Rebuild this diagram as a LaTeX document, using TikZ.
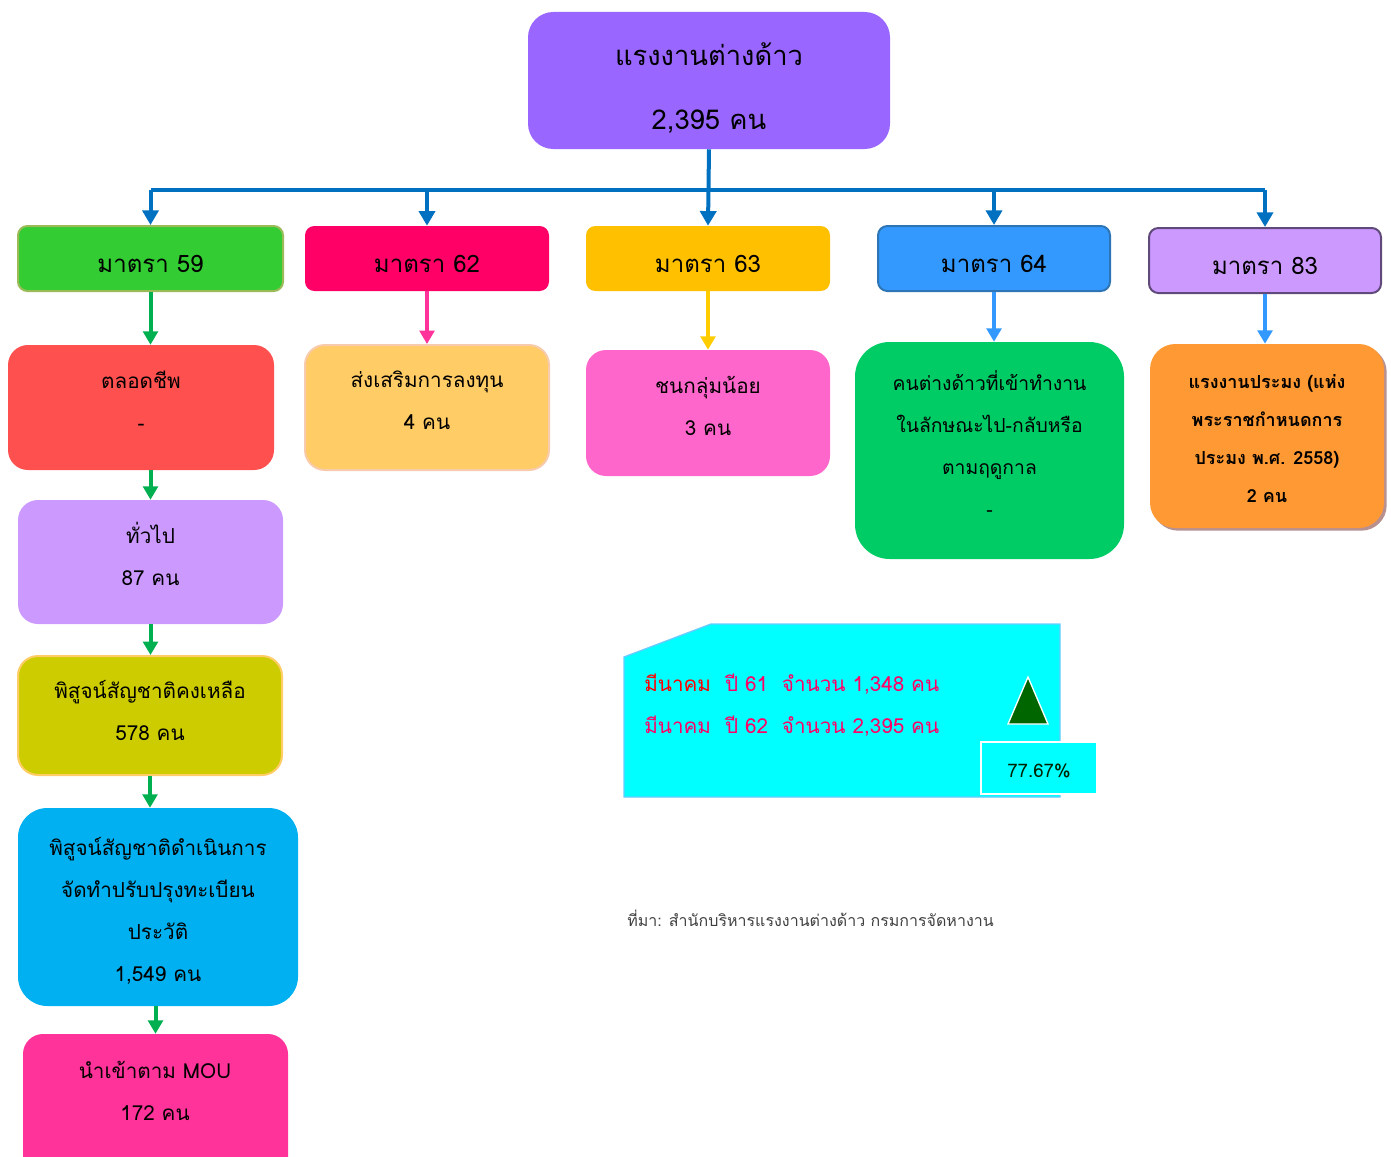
\documentclass[tikz,border=0pt]{standalone}
\usepackage{fontspec}
\setmainfont[Script=Thai]{Loma}
\usetikzlibrary{arrows.meta,fit,shadows}
\definecolor{ctop}{HTML}{9966FF}
\definecolor{cbus}{HTML}{0070C0}
\definecolor{c59}{HTML}{33CC33}
\definecolor{c59b}{HTML}{9BBB59}
\definecolor{c62}{HTML}{FF0066}
\definecolor{c63}{HTML}{FFC000}
\definecolor{c64}{HTML}{3399FF}
\definecolor{c64b}{HTML}{2E75B6}
\definecolor{c83}{HTML}{CC99FF}
\definecolor{c83b}{HTML}{604A7B}
\definecolor{ctl}{HTML}{FF5050}
\definecolor{cinv}{HTML}{FFCC66}
\definecolor{cinvb}{HTML}{F8CBAD}
\definecolor{cmin}{HTML}{FF66CC}
\definecolor{csea}{HTML}{00CC66}
\definecolor{cfish}{HTML}{FF9933}
\definecolor{cshadow}{HTML}{B89090}
\definecolor{cgen}{HTML}{CC99FF}
\definecolor{cpa}{HTML}{CCCC00}
\definecolor{cpab}{HTML}{FFCC66}
\definecolor{cpb}{HTML}{00B0F0}
\definecolor{cmou}{HTML}{FF3399}
\definecolor{cstat}{HTML}{00FFFF}
\definecolor{cstatb}{HTML}{66CCFF}
\definecolor{ctri}{HTML}{006600}
\definecolor{cpct}{HTML}{002200}
\definecolor{cred}{HTML}{FF0000}
\definecolor{cpinktext}{HTML}{FF0066}
\definecolor{agreen}{HTML}{00B050}
\definecolor{apink}{HTML}{FF3399}
\definecolor{ayellow}{HTML}{FFCC00}
\definecolor{ablue}{HTML}{3399FF}
\definecolor{csrc}{HTML}{404040}
\begin{document}
\begin{tikzpicture}[x=0.75pt,y=-0.75pt,
  box/.style={inner sep=0pt},
  txt/.style={inner sep=0pt, align=center, text=black},
  topbox/.style={box, rounded corners=19pt},
  toptxt/.style={txt, font={\fontsize{20.5pt}{48pt}\selectfont}},
  lvltwo/.style={box, rounded corners=7pt},
  twotxt/.style={txt, font={\fontsize{18pt}{24pt}\selectfont}},
  lvlthree/.style={box, rounded corners=15pt},
  threetxt/.style={txt, font={\fontsize{15.5pt}{31.5pt}\selectfont}},
  busline/.style={draw=cbus, line width=3pt},
  busarrow/.style={busline, -{Triangle[width=12pt,length=11pt]}},
  flow/.style={line width=3pt, -{Triangle[width=11pt,length=10pt]}},
]
\useasboundingbox (0,0) rectangle (1391,1156);
\clip (0,0) rectangle (1391,1156);

% top
\node[topbox, fill=ctop, fit={(528,12)(890,149)}] (top) {};
\node[toptxt] (topt) at ([yshift=-6pt]top.center) {แรงงานต่างด้าว\\2,395 คน};

% level two
\node[lvltwo, fill=c59, draw=c59b, line width=1.5pt, fit={(18,226)(283,291)}] (m59) {};
\node[lvltwo, fill=c62, fit={(305,226)(549,291)}] (m62) {};
\node[lvltwo, fill=c63, fit={(586,226)(830,291)}] (m63) {};
\node[lvltwo, fill=c64, draw=c64b, line width=1.5pt, fit={(878,226)(1110,291)}] (m64) {};
\node[lvltwo, fill=c83, draw=c83b, line width=1.5pt, fit={(1149,228)(1381,293)}] (m83) {};
\node[twotxt] (m59t) at ([yshift=-3.75pt]m59.center) {มาตรา 59};
\node[twotxt] (m62t) at ([yshift=-3.75pt]m62.center) {มาตรา 62};
\node[twotxt] (m63t) at ([yshift=-3.75pt]m63.center) {มาตรา 63};
\node[twotxt] (m64t) at ([yshift=-3.75pt]m64.center) {มาตรา 64};
\node[twotxt] (m83t) at ([yshift=-3.75pt]m83.center) {มาตรา 83};

% bus
\coordinate (bus) at (711,190);
\draw[busline] (m59.north |- bus) -- (m83.north |- bus);
\draw[busarrow] (top.south) -- (m63.north);
\draw[busarrow] (m59.north |- bus) -- (m59.north);
\draw[busarrow] (m62.north |- bus) -- (m62.north);
\draw[busarrow] (m64.north |- bus) -- (m64.north);
\draw[busarrow] (m83.north |- bus) -- (m83.north);

% level three
\node[lvlthree, fill=ctl, fit={(8,345)(274,470)}] (tl) {};
\node[lvlthree, fill=cinv, draw=cinvb, line width=1.5pt, fit={(305,345)(549,470)}] (inv) {};
\node[lvlthree, fill=cmin, fit={(586,350)(830,476)}] (mino) {};
\node[lvlthree, rounded corners=26pt, fill=csea, fit={(855,342)(1124,559)}] (sea) {};
\node[lvlthree, rounded corners=19pt, fill=cfish,
  drop shadow={shadow xshift=2pt, shadow yshift=-2pt, fill=cshadow, opacity=1},
  fit={(1150,344)(1384,528)}] (fish) {};
\node[threetxt] (tlt) at ([yshift=5.25pt]tl.center) {ตลอดชีพ\\-};
\node[threetxt] (invt) at ([yshift=5.25pt]inv.center) {ส่งเสริมการลงทุน\\4 คน};
\node[threetxt] (minot) at ([yshift=5.25pt]mino.center) {ชนกลุ่มน้อย\\3 คน};
\node[threetxt, font={\fontsize{14.5pt}{31.5pt}\selectfont}] (seat) at ([yshift=5.25pt]sea.center) {คนต่างด้าวที่เข้าทำงาน\\ในลักษณะไป-กลับหรือ\\ตามฤดูกาล\\-};
\node[threetxt, font={\fontsize{13.5pt}{28.5pt}\selectfont\bfseries}] (fisht) at ([yshift=-2.25pt]fish.center) {แรงงานประมง (แห่ง\\พระราชกำหนดการ\\ประมง พ.ศ. 2558)\\2 คน};

\draw[flow, draw=agreen] (m59.south) -- (m59.south |- tl.north);
\draw[flow, draw=apink] (m62.south) -- (m62.south |- inv.north);
\draw[flow, draw=ayellow] (m63.south) -- (m63.south |- mino.north);
\draw[flow, draw=ablue] (m64.south) -- (m64.south |- sea.north);
\draw[flow, draw=ablue] (m83.south) -- (m83.south |- fish.north);

% left column
\node[lvlthree, fill=cgen, fit={(18,500)(283,624)}] (gen) {};
\node[lvlthree, fill=cpa, draw=cpab, line width=1.5pt, fit={(18,656)(282,775)}] (pa) {};
\node[lvlthree, rounded corners=22pt, fill=cpb, fit={(18,808)(298,1006)}] (pb) {};
\node[lvlthree, fill=cmou, fit={(23,1034)(288,1190)}] (mou) {};
\node[threetxt] (gent) at ([yshift=6pt]gen.center) {ทั่วไป\\87 คน};
\node[threetxt] (pat) at ([yshift=3.75pt]pa.center) {พิสูจน์สัญชาติคงเหลือ\\578 คน};
\node[threetxt] (pbt) at ([yshift=-3pt]pb.center) {พิสูจน์สัญชาติดำเนินการ\\จัดทำปรับปรุงทะเบียน\\ประวัติ\\1,549 คน};
\node[threetxt, anchor=north] (mout) at (155,1061) {นำเข้าตาม MOU\\172 คน};

\draw[flow, draw=agreen] (gen.north |- tl.south) -- (gen.north);
\draw[flow, draw=agreen] (gen.south) -- (gen.south |- pa.north);
\draw[flow, draw=agreen] (pa.south) -- (pa.south |- pb.north);
\draw[flow, draw=agreen] (mou.north |- pb.south) -- (mou.north);

% stats panel
\draw[fill=cstat, draw=cstatb, line width=1pt] (624,657) -- (711,624) -- (1060,624) -- (1060,797) -- (624,797) -- cycle;
\node[anchor=base west, inner sep=0pt, font={\fontsize{15.5pt}{18pt}\selectfont}, text=cpinktext] (s1) at (644,691) {\textcolor{cred}{มีนาคม}\ \ ปี 61\ \ จำนวน 1,348 คน};
\node[anchor=base west, inner sep=0pt, font={\fontsize{15.5pt}{18pt}\selectfont}, text=cpinktext] (s2) at (644,733) {มีนาคม\ \ ปี 62\ \ จำนวน 2,395 คน};
\draw[fill=ctri, draw=white, line width=1pt] (1028,677) -- (1048,724) -- (1008,724) -- cycle;
\node[box, fill=cstat, draw=white, line width=1.5pt, fit={(981,742)(1097,794)}] (pct) {};
\node[txt, text=cpct, font={\fontsize{14pt}{16pt}\selectfont}] (pctt) at ([yshift=-2.25pt]pct.center) {77.67\%};

% source
\node[anchor=base west, inner sep=0pt, text=csrc, font={\fontsize{12pt}{16pt}\selectfont}] (src) at (627,926) {ที่มา: สำนักบริหารแรงงานต่างด้าว กรมการจัดหางาน};
\end{tikzpicture}
\end{document}
